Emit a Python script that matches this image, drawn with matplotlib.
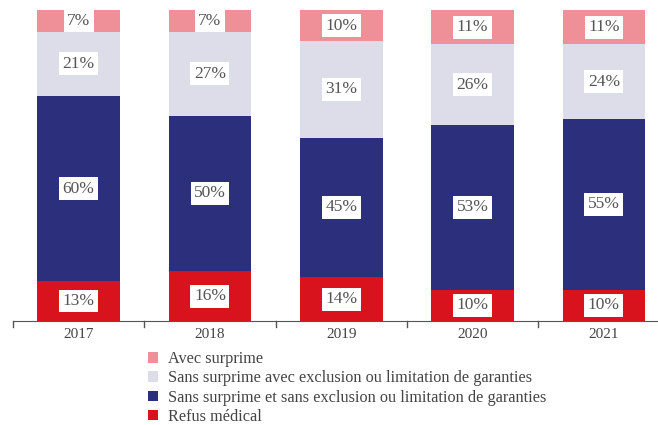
import matplotlib
matplotlib.use("Agg")
import matplotlib.pyplot as plt
import numpy as np

years = ["2017", "2018", "2019", "2020", "2021"]
refus = [13, 16, 14, 10, 10]
sans_sans = [60, 50, 45, 53, 55]
sans_avec = [21, 27, 31, 26, 24]
avec = [7, 7, 10, 11, 11]

series = [
    ("Refus médical", refus, "#d9131e"),
    ("Sans surprime et sans exclusion ou limitation de garanties", sans_sans, "#2c2f7b"),
    ("Sans surprime avec exclusion ou limitation de garanties", sans_avec, "#dddde9"),
    ("Avec surprime", avec, "#ef8f97"),
]

plt.rcParams["font.family"] = ["Liberation Serif", "DejaVu Serif"]

fig = plt.figure(figsize=(6.58, 4.25), dpi=100)
ax = fig.add_axes([13 / 658, 104 / 425, 650 / 658, 311 / 425])

x = np.arange(len(years))
# columns are shares of 100% (rounded labels may sum to 101)
totals = np.sum([s[1] for s in series], axis=0).astype(float)
bottom = np.zeros(len(years))
handles = []
for name, vals, col in series:
    vals = np.array(vals, dtype=float)
    h = vals / totals * 100
    b = ax.bar(x, h, 0.63, bottom=bottom, color=col, label=name)
    handles.append(b)
    for xi, v, hh, bt in zip(x, vals, h, bottom):
        ax.text(xi, bt + hh / 2, f"{int(v)}%", ha="center", va="center",
                fontsize=12.5, color="#555555",
                bbox=dict(facecolor="white", edgecolor="none", pad=2.5))
    bottom += h

ax.set_xlim(-0.5, 4.45)
ax.set_ylim(0, 100)
ax.set_yticks([])
for s in ["top", "right", "left"]:
    ax.spines[s].set_visible(False)
ax.spines["bottom"].set_color("#555555")
ax.set_xticks(x)
ax.set_xticklabels(years, fontsize=11, color="#444444")
ax.tick_params(axis="x", length=0, pad=5)
for b in np.arange(-0.5, 4.6, 1.0):
    ax.plot([b, b], [0, -1.8], color="#555555", lw=1, clip_on=False)

leg = fig.legend(handles[::-1], [s[0] for s in series][::-1],
                 loc="upper left", bbox_to_anchor=(140 / 658, 1 - 343 / 425),
                 frameon=False, fontsize=11.7, handlelength=0.6, handleheight=0.6,
                 handletextpad=0.6, labelspacing=0.2, borderpad=0)
for t in leg.get_texts():
    t.set_color("#444444")

fig.savefig("out.png", dpi=100)
